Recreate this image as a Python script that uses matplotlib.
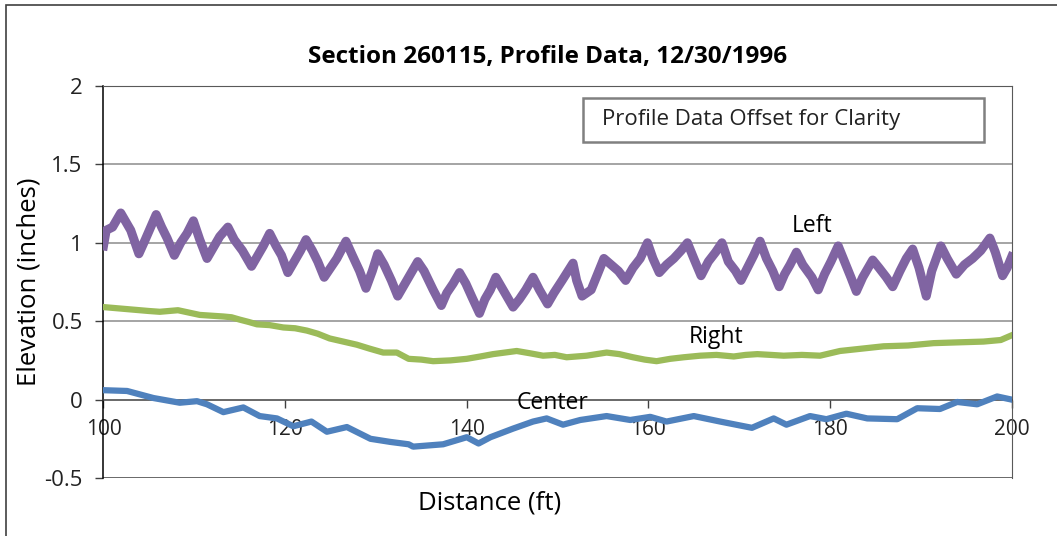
import matplotlib
matplotlib.use('Agg')
import matplotlib.pyplot as plt
from matplotlib.patches import Rectangle

plt.rcParams['font.family'] = ['Open Sans', 'DejaVu Sans']

# Left profile (offset +0.9 in)
left_x = [100.0, 100.3, 101.0, 101.9, 102.5, 103.0, 103.9, 104.6, 105.2, 105.8, 106.4, 107.0, 107.8, 108.5, 109.2,
          109.9, 110.6, 111.4, 112.0, 112.8, 113.7, 114.4, 115.3, 116.3, 117.0, 117.6, 118.3, 119.0, 119.6, 120.3,
          121.0, 121.7, 122.3, 123.0, 123.6, 124.3, 125.0, 125.7, 126.7, 127.4, 128.2, 128.9, 129.6, 130.2, 130.9,
          131.7, 132.4, 133.0, 133.8, 134.6, 135.3, 136.3, 137.2, 137.8, 138.5, 139.2, 139.9, 140.6, 141.4, 142.0,
          142.6, 143.2, 144.0, 145.1, 145.8, 146.5, 147.3, 148.0, 148.9, 149.6, 150.5, 151.7, 152.1, 152.7, 153.7,
          154.4, 155.1, 155.9, 156.7, 157.5, 158.3, 159.1, 159.9, 160.5, 161.2, 162.0, 162.8, 163.6, 164.3, 165.0,
          165.8, 166.6, 167.4, 168.1, 168.8, 169.6, 170.2, 170.9, 171.6, 172.3, 173.0, 173.7, 174.4, 175.0, 175.6,
          176.3, 177.0, 178.0, 178.7, 179.4, 180.1, 180.9, 181.6, 182.3, 182.9, 183.6, 184.7, 185.4, 186.2, 186.9,
          187.7, 188.4, 189.1, 189.8, 190.6, 191.2, 192.2, 192.9, 193.9, 194.8, 195.7, 196.6, 197.6, 198.2, 199.0,
          199.5, 200.0]
left_y = [0.98, 1.08, 1.10, 1.19, 1.13, 1.08, 0.93, 1.02, 1.10, 1.18, 1.10, 1.03, 0.92, 1.00, 1.06,
          1.14, 1.02, 0.90, 0.96, 1.04, 1.10, 1.02, 0.95, 0.85, 0.92, 0.98, 1.06, 0.98, 0.92, 0.81,
          0.88, 0.95, 1.02, 0.95, 0.88, 0.78, 0.84, 0.90, 1.01, 0.92, 0.82, 0.71, 0.82, 0.93, 0.86,
          0.76, 0.66, 0.72, 0.80, 0.88, 0.82, 0.70, 0.60, 0.68, 0.74, 0.81, 0.74, 0.65, 0.55, 0.64,
          0.70, 0.78, 0.70, 0.59, 0.64, 0.70, 0.78, 0.70, 0.61, 0.68, 0.76, 0.87, 0.76, 0.66, 0.70,
          0.80, 0.90, 0.86, 0.82, 0.76, 0.84, 0.90, 1.00, 0.90, 0.81, 0.86, 0.90, 0.95, 1.00, 0.90,
          0.79, 0.88, 0.94, 1.00, 0.88, 0.82, 0.76, 0.84, 0.92, 1.01, 0.90, 0.82, 0.72, 0.80, 0.86,
          0.94, 0.86, 0.78, 0.70, 0.80, 0.88, 0.98, 0.88, 0.78, 0.69, 0.78, 0.89, 0.84, 0.78, 0.72,
          0.82, 0.90, 0.96, 0.84, 0.66, 0.82, 0.98, 0.90, 0.80, 0.86, 0.90, 0.95, 1.03, 0.94, 0.79,
          0.84, 0.91]

# Right profile (offset +0.4 in)
right_x = [100.0, 101.0, 102.0, 103.0, 104.0, 105.0, 106.2, 107.2, 108.2, 109.4, 110.6, 111.9, 113.2, 114.1,
           115.0, 116.0, 116.9, 118.3, 119.8, 121.1, 122.4, 123.6, 124.9, 126.4, 127.9, 129.3, 130.8, 132.3,
           133.6, 135.0, 136.3, 138.2, 140.0, 141.5, 142.9, 144.2, 145.5, 147.0, 148.4, 149.7, 151.0, 153.2,
           155.4, 156.8, 158.3, 159.6, 160.9, 162.4, 163.9, 165.7, 167.5, 169.4, 170.7, 172.0, 173.5, 174.9,
           176.9, 178.9, 180.0, 181.1, 183.5, 185.9, 188.6, 191.4, 194.1, 196.9, 198.8, 200.0]
right_y = [0.59, 0.585, 0.58, 0.575, 0.57, 0.565, 0.56, 0.565, 0.57, 0.555, 0.54, 0.535, 0.53, 0.525,
           0.51, 0.495, 0.48, 0.475, 0.46, 0.455, 0.44, 0.42, 0.39, 0.37, 0.35, 0.325, 0.30, 0.30,
           0.26, 0.255, 0.245, 0.25, 0.26, 0.275, 0.29, 0.30, 0.31, 0.295, 0.28, 0.285, 0.27, 0.28,
           0.30, 0.29, 0.27, 0.255, 0.245, 0.26, 0.27, 0.28, 0.285, 0.275, 0.285, 0.29, 0.285, 0.28,
           0.285, 0.28, 0.295, 0.31, 0.325, 0.34, 0.345, 0.36, 0.365, 0.37, 0.38, 0.41]

# Center profile (no offset)
center_x = [100.0, 102.6, 105.5, 108.4, 110.3, 111.4, 113.2, 115.4, 117.2, 119.1, 120.9, 122.9, 124.6, 126.8,
            129.4, 131.6, 133.6, 134.1, 137.4, 140.0, 141.3, 142.6, 145.1, 147.3, 148.8, 150.6, 152.5, 155.4,
            158.0, 160.2, 162.0, 165.0, 167.9, 171.4, 173.8, 175.2, 177.8, 179.6, 181.8, 184.1, 187.4, 189.6,
            192.1, 194.0, 196.2, 198.4, 200.0]
center_y = [0.06, 0.055, 0.01, -0.02, -0.01, -0.03, -0.08, -0.05, -0.105, -0.12, -0.17, -0.14, -0.205, -0.175,
            -0.25, -0.27, -0.285, -0.30, -0.285, -0.24, -0.28, -0.24, -0.185, -0.14, -0.12, -0.16, -0.13, -0.105,
            -0.13, -0.11, -0.14, -0.105, -0.14, -0.18, -0.12, -0.16, -0.105, -0.125, -0.09, -0.12, -0.125, -0.055,
            -0.06, -0.015, -0.03, 0.02, 0.0]

x_ticks = [100, 120, 140, 160, 180, 200]
y_ticks = [-0.5, 0, 0.5, 1, 1.5, 2]
y_tick_labels = ['-0.5', '0', '0.5', '1', '1.5', '2']

fig = plt.figure(figsize=(10.57, 5.36), dpi=100)
ax = fig.add_axes([0.0979, 0.1082, 0.8592, 0.7314])

# chart area frame (cut off at right / bottom like the screenshot)
fig.patches.append(Rectangle((6 / 1057, -0.05), 1.1, 1 - 5 / 536 + 0.05, transform=fig.transFigure,
                             fill=False, edgecolor='#404040', linewidth=1.2))

ax.set_xlim(100, 200)
ax.set_ylim(-0.5, 2)
for gy in [0.5, 1, 1.5]:
    ax.axhline(gy, color='#8c8c8c', linewidth=1.1, zorder=1)

ax.plot(left_x, left_y, color='#8064A2', linewidth=6.5, solid_joinstyle='round', zorder=3)
ax.plot(right_x, right_y, color='#9BBB59', linewidth=4.5, solid_joinstyle='round', zorder=3)
ax.plot(center_x, center_y, color='#4F81BD', linewidth=4.5, solid_joinstyle='round', zorder=3)

ax.spines['left'].set_color('black')
ax.spines['left'].set_linewidth(1.1)
ax.spines['bottom'].set_position(('data', 0))
ax.spines['bottom'].set_color('#404040')
ax.spines['bottom'].set_linewidth(1.1)
ax.spines['top'].set_color('#595959')
ax.spines['right'].set_color('#595959')
ax.axhline(-0.5, color='#404040', linewidth=1.1, zorder=2)

ax.set_xticks(x_ticks)
ax.set_yticks(y_ticks)
ax.set_yticklabels(y_tick_labels)
ax.tick_params(axis='x', direction='out', length=6, width=1, pad=8, labelsize=15, colors='#404040',
               labelcolor='#222222')
ax.tick_params(axis='y', direction='out', length=6, width=1, pad=9, labelsize=16, colors='#404040',
               labelcolor='#222222')

ax.set_title('Section 260115, Profile Data, 12/30/1996', fontsize=17.5, fontweight='bold', x=0.489,
             y=1.058, pad=0)
ax.set_xlabel('Distance (ft)', fontsize=18.5)
ax.xaxis.set_label_coords(0.425, -0.033)
ax.set_ylabel('Elevation (inches)', fontsize=18.5)
ax.yaxis.set_label_coords(-0.068, 0.5)

ax.text(178.0, 1.108, 'Left', fontsize=16.5, ha='center', va='center')
ax.text(167.5, 0.40, 'Right', fontsize=16.5, ha='center', va='center')
ax.text(149.5, -0.02, 'Center', fontsize=16.5, ha='center', va='center', zorder=4)

fig.text(601.7 / 1057, 1 - 120 / 536, 'Profile Data Offset for Clarity', fontsize=16, ha='left', va='center',
         color='#222222')
fig.patches.append(Rectangle((583 / 1057, 1 - 141.7 / 536), 401 / 1057, 43.4 / 536, transform=fig.transFigure,
                             fill=False, edgecolor='#808080', linewidth=1.8))

plt.savefig('out.png', dpi=100)
